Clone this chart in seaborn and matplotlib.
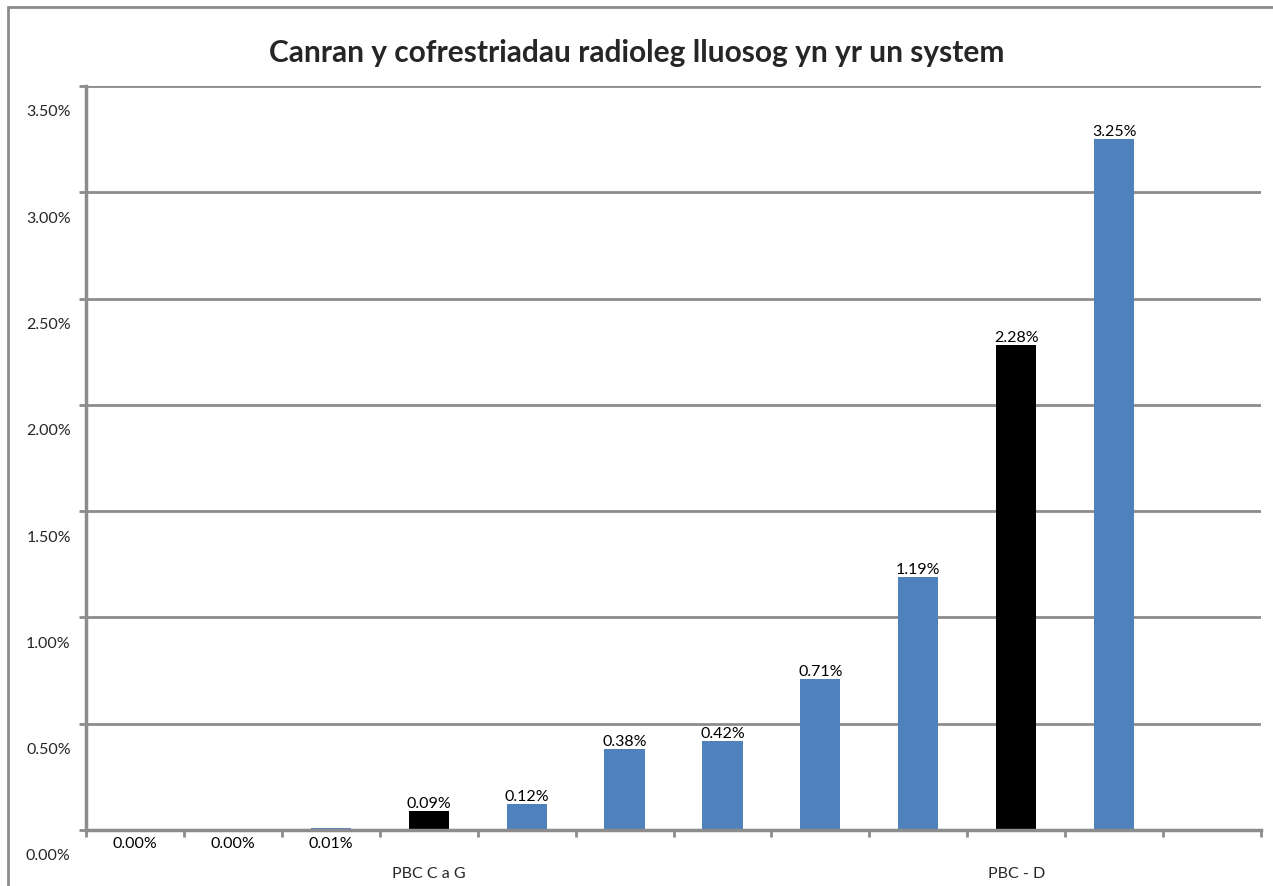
import matplotlib
matplotlib.use("Agg")
import matplotlib.pyplot as plt
import matplotlib.transforms as mtransforms
from matplotlib.patches import Rectangle
import seaborn as sns
import pandas as pd
import numpy as np

# Percentage of multiple radiology registrations within one system
slots = ["s1", "s2", "s3", "s4", "s5", "s6", "s7", "s8", "s9", "s10", "s11", "s12"]
values = [0.00, 0.00, 0.01, 0.09, 0.12, 0.38, 0.42, 0.71, 1.19, 2.28, 3.25, None]
tick_labels = ["", "", "", "PBC C a G", "", "", "", "", "", "PBC - D", "", ""]
highlight = [False, False, False, True, False, False, False, False, False, True, False, False]
title = "Canran y cofrestriadau radioleg lluosog yn yr un system"

BLUE = "#4F81BD"
BLACK = "#000000"
GRID = "#8C8C8C"

sns.set_theme(style="white")
plt.rcParams["font.family"] = ["Lato", "DejaVu Sans"]

df = pd.DataFrame({"slot": slots, "value": values})
df_bars = df.dropna()
palette = {s: (BLACK if h else BLUE) for s, h in zip(slots, highlight)}

fig = plt.figure(figsize=(12.73, 8.86), dpi=100)
ax = fig.add_axes([86 / 1273, 1 - 830 / 886, (1261 - 86) / 1273, (830 - 86) / 886])

sns.barplot(data=df_bars, x="slot", y="value", hue="slot", order=slots,
            palette=palette, legend=False, width=0.41, saturation=1,
            edgecolor="none", linewidth=0, ax=ax, zorder=3)

ax.set_xlim(-0.5, len(slots) - 0.5)
ax.set_ylim(0, 3.5)

# y axis: gridlines every 0.5 %, labels sitting slightly below their lines
yticks = np.arange(0, 3.51, 0.5)
ax.set_yticks(yticks)
ax.set_yticklabels([f"{v:.2f}%" for v in yticks], fontsize=11.5)
ax.yaxis.grid(True, color=GRID, linewidth=2, zorder=0)
ax.set_axisbelow(True)
ax.tick_params(axis="y", direction="out", length=5, width=2, color=GRID,
               pad=6, left=True)
shift = mtransforms.ScaledTranslation(0, -0.25, fig.dpi_scale_trans)
for lab in ax.get_yticklabels():
    lab.set_transform(lab.get_transform() + shift)

# x axis: tick marks at category boundaries, labels at the centres
ax.set_xticks(np.arange(len(slots)))
ax.set_xticklabels(tick_labels, fontsize=11.5)
ax.tick_params(axis="x", which="major", length=0, pad=27)
ax.set_xticks(np.arange(-0.5, len(slots)), minor=True)
ax.tick_params(axis="x", which="minor", direction="out", length=5, width=2,
               color=GRID, bottom=True)
ax.set_xlabel("")
ax.set_ylabel("")

for side in ["top", "right"]:
    ax.spines[side].set_visible(False)
for side in ["left", "bottom"]:
    ax.spines[side].set_color(GRID)
    ax.spines[side].set_linewidth(2.5)
    ax.spines[side].set_zorder(5)

# value labels
for i, v in enumerate(values):
    if v is None:
        continue
    if v < 0.05:
        ax.annotate(f"{v:.2f}%", (i, 0), xytext=(0, -5), textcoords="offset points",
                    ha="center", va="top", fontsize=11.5, color="black")
    else:
        ax.annotate(f"{v:.2f}%", (i, v), xytext=(0, 0), textcoords="offset points",
                    ha="center", va="bottom", fontsize=11.5, color="black")

fig.text(0.5, 1 - 53 / 886, title, ha="center", va="center",
         fontsize=21.5, fontweight="bold")

# chart frame
fig.patches.append(Rectangle((8 / 1273, -0.05), 1.1, 1 - 7 / 886 + 0.05,
                             transform=fig.transFigure, fill=False,
                             edgecolor="#8C8C8C", linewidth=2))

fig.savefig("out.png", dpi=100)
